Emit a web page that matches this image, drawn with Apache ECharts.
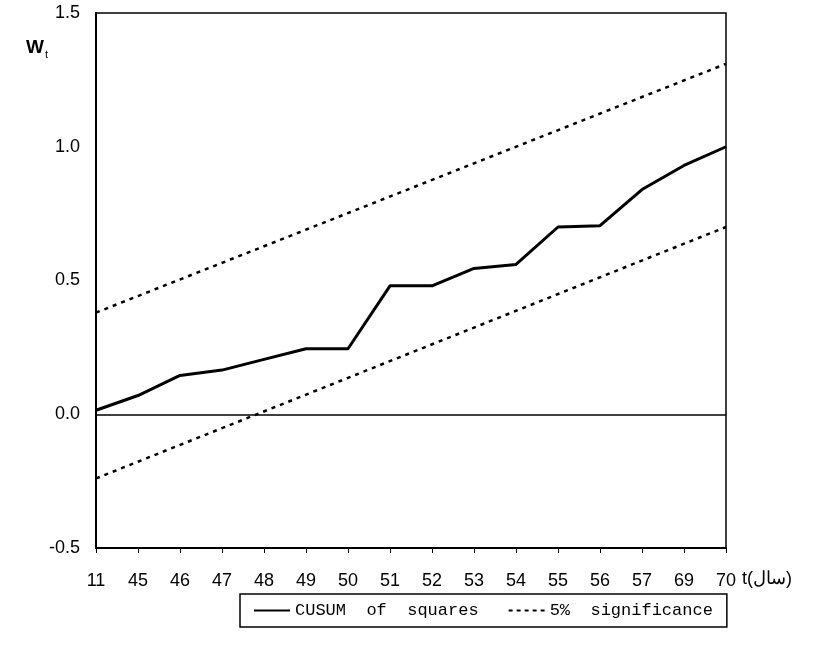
<!DOCTYPE html>
<html>
<head>
<meta charset="utf-8">
<script src="https://cdn.jsdelivr.net/npm/echarts@6/dist/echarts.min.js"></script>
<style>
html,body{margin:0;padding:0;background:#fff;}
#chart{width:826px;height:655px;}
</style>
</head>
<body>
<div id="chart"></div>
<script>
// Data
const years = ['11','45','46','47','48','49','50','51','52','53','54','55','56','57','69','70'];
const cusum = [0.015, 0.07, 0.145, 0.165, 0.205, 0.245, 0.245, 0.48, 0.48, 0.545, 0.56, 0.70, 0.705, 0.84, 0.93, 1.0];
// 5% significance bounds: straight lines, read at their two ends
const upperBound = [0.38, null, null, null, null, null, null, null, null, null, null, null, null, null, null, 1.31];
const lowerBound = [-0.24, null, null, null, null, null, null, null, null, null, null, null, null, null, null, 0.70];
const yTicks = { min: -0.5, max: 1.5, step: 0.5 };
const xName = 't(سال)';

const FONT = 'Liberation Sans';
const chart = echarts.init(document.getElementById('chart'), null, { renderer: 'canvas' });
const dotted = { color: '#000', width: 2.5, type: [4, 5] };

chart.setOption({
  animation: false,
  backgroundColor: '#fff',
  grid: { left: 96, right: 100, top: 13, bottom: 107, show: true, borderColor: '#000', borderWidth: 1.5, containLabel: false },
  xAxis: {
    type: 'category',
    data: years,
    boundaryGap: false,
    axisLine: { onZero: false, lineStyle: { color: '#000', width: 2 } },
    axisTick: { show: true, alignWithLabel: true, length: 5, lineStyle: { color: '#000', width: 1 } },
    axisLabel: { fontFamily: FONT, fontSize: 18, color: '#000', margin: 24 },
    splitLine: { show: false }
  },
  yAxis: {
    type: 'value',
    min: yTicks.min,
    max: yTicks.max,
    interval: yTicks.step,
    axisLine: { show: true, lineStyle: { color: '#000', width: 2 } },
    axisTick: { show: false },
    axisLabel: { fontFamily: FONT, fontSize: 18, color: '#000', margin: 16, formatter: v => v.toFixed(1) },
    splitLine: { show: false }
  },
  legend: {
    left: 240,
    top: 594,
    padding: [8, 14, 8, 14],
    itemGap: 30,
    itemWidth: 36,
    itemHeight: 12,
    borderColor: '#000',
    borderWidth: 1.5,
    textStyle: { fontFamily: 'Liberation Mono', fontSize: 17, color: '#000' },
    formatter: name => name.split(' ').join('  '),
    data: [
      { name: 'CUSUM of squares', icon: 'path://M0,5h36v2h-36z' },
      { name: '5% significance', icon: 'path://M0,5h4v2h-4zM8,5h4v2h-4zM16,5h4v2h-4zM24,5h4v2h-4zM32,5h4v2h-4z' }
    ]
  },
  graphic: [
    { type: 'text', left: 26, top: 38, style: { text: '{w|W}{t|t}', rich: { w: { fontFamily: FONT, fontSize: 19, fontWeight: 'bold', fill: '#000' }, t: { fontFamily: FONT, fontSize: 11, fill: '#000', padding: [14, 0, 0, 1] } } } },
    { type: 'text', left: 742, top: 570, style: { text: xName, fontFamily: FONT, fontSize: 18, fill: '#000' } }
  ],
  series: [
    {
      name: 'CUSUM of squares',
      type: 'line',
      data: cusum,
      symbol: 'none',
      lineStyle: { color: '#000', width: 3 },
      itemStyle: { color: '#000' },
      markLine: {
        silent: true,
        symbol: 'none',
        label: { show: false },
        lineStyle: { color: '#000', width: 1.5, type: 'solid' },
        data: [{ yAxis: 0 }]
      }
    },
    {
      name: '5% significance',
      type: 'line',
      data: upperBound,
      connectNulls: true,
      symbol: 'none',
      lineStyle: dotted,
      itemStyle: { color: '#000' }
    },
    {
      name: '5% significance',
      type: 'line',
      data: lowerBound,
      connectNulls: true,
      symbol: 'none',
      lineStyle: dotted,
      itemStyle: { color: '#000' }
    }
  ]
});
</script>
</body>
</html>
